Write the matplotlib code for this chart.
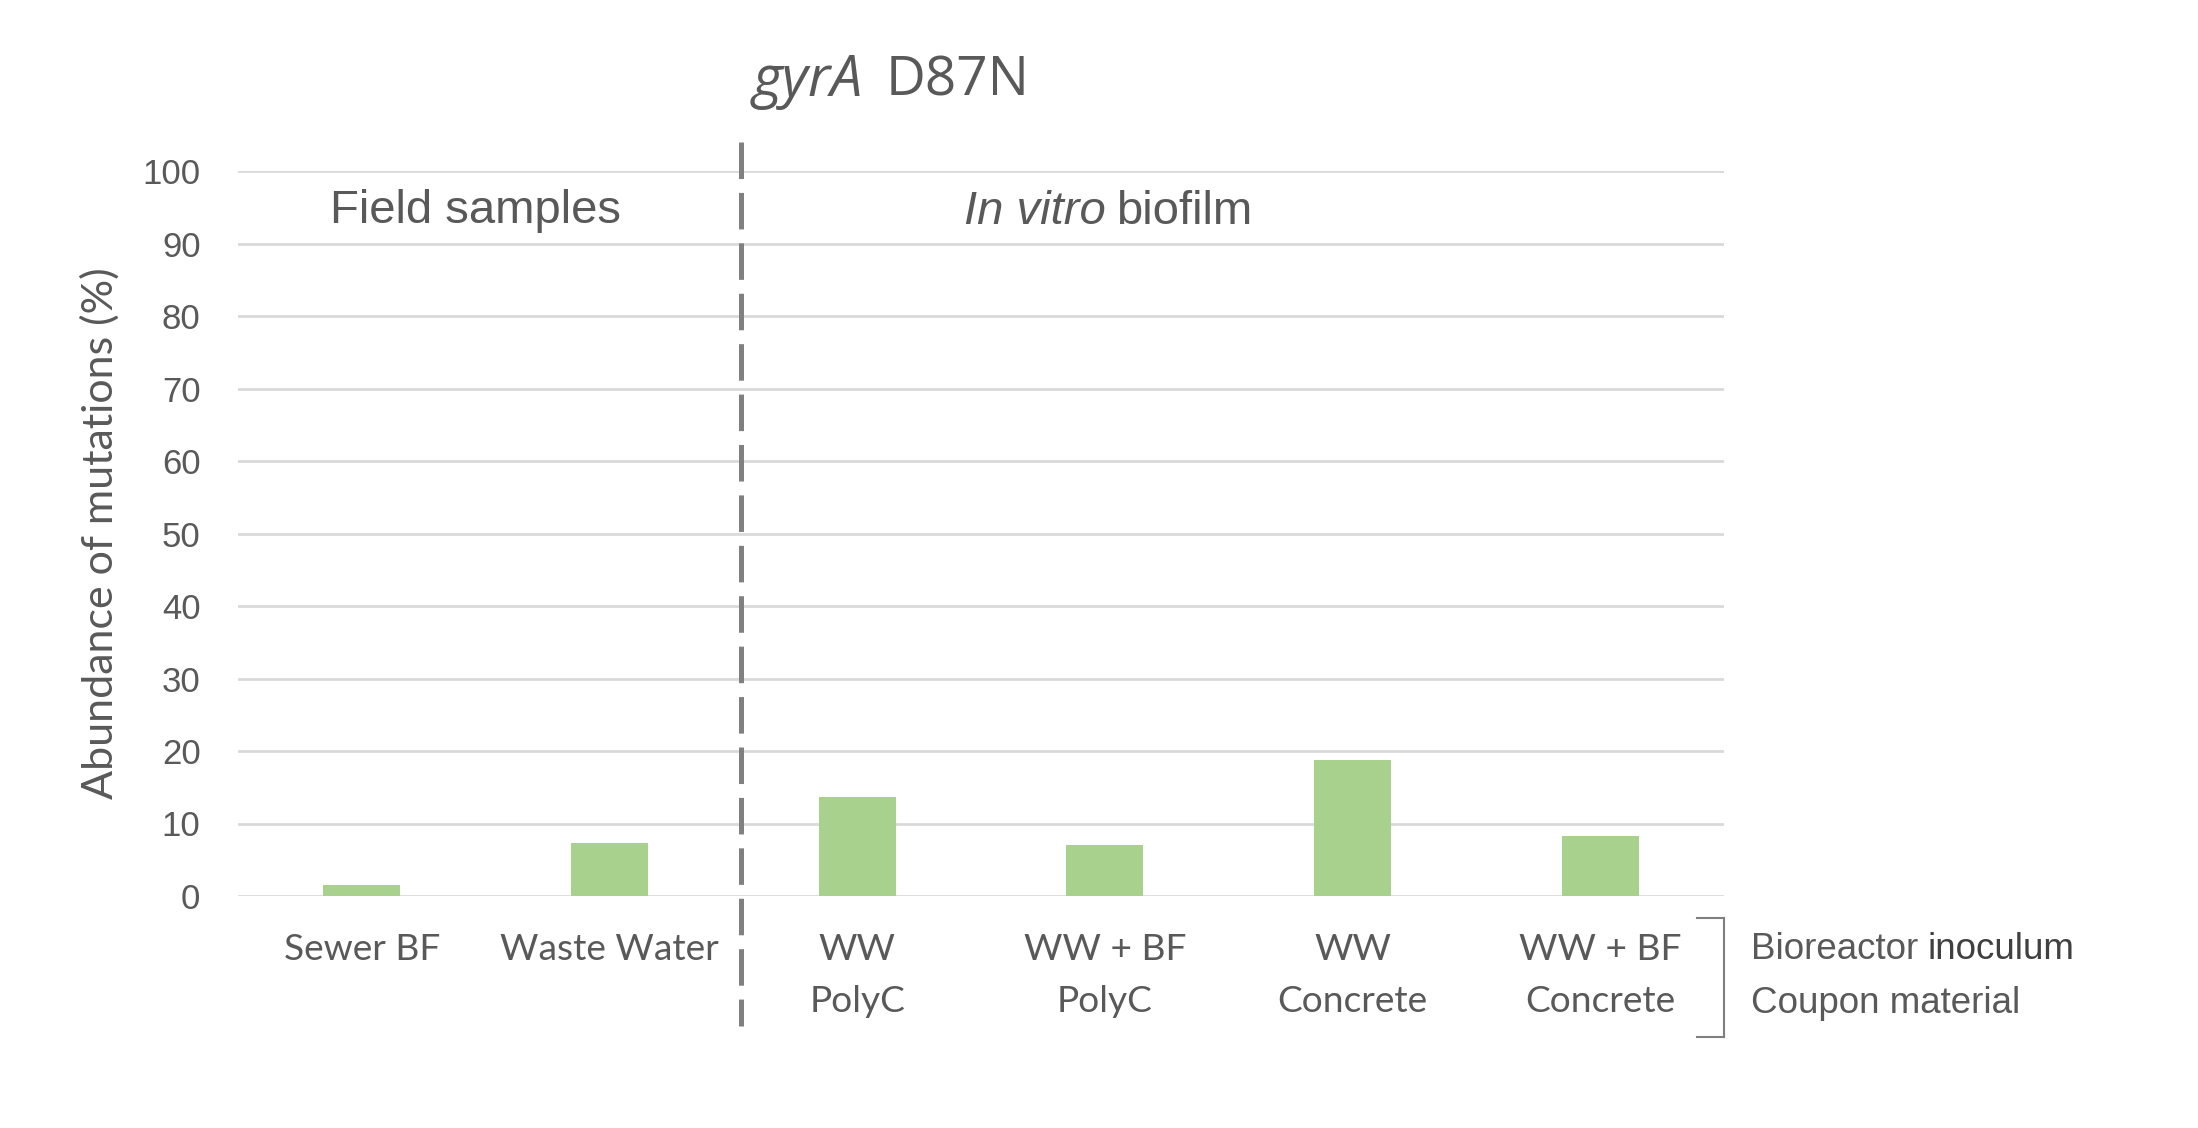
import matplotlib
matplotlib.use("Agg")
import matplotlib.pyplot as plt
from matplotlib.lines import Line2D

categories = ["Sewer BF", "Waste Water", "WW\nPolyC", "WW + BF\nPolyC", "WW\nConcrete", "WW + BF\nConcrete"]
values = [1.5, 7.3, 13.6, 7.0, 18.7, 8.3]
yticks = [0, 10, 20, 30, 40, 50, 60, 70, 80, 90, 100]

W, H = 2198, 1128
DPI = 100
TXT = "#595959"
BAR = "#a9d18e"
GRID = "#d9d9d9"
plt.rcParams['lines.scale_dashes'] = False

fig = plt.figure(figsize=(W / DPI, H / DPI), dpi=DPI)
L, R, T, B = 238, 1724, 171, 896
ax = fig.add_axes([L / W, 1 - B / H, (R - L) / W, (B - T) / H])

x = list(range(len(categories)))
ax.bar(x, values, width=0.31, color=BAR, zorder=2)
ax.set_xlim(-0.5, len(categories) - 0.5)
ax.set_ylim(0, 100)
ax.set_yticks(yticks)
ax.yaxis.grid(True, color=GRID, linewidth=1.95, zorder=0)
ax.set_axisbelow(True)
for s in ax.spines.values():
    s.set_visible(False)
ax.tick_params(axis='both', length=0)
ax.tick_params(axis='y', pad=27, labelsize=25, labelcolor=TXT)
for lab in ax.get_yticklabels():
    lab.set_fontfamily('Liberation Sans')
ax.set_xticks(x)
ax.set_xticklabels(categories, fontfamily='Lato', fontsize=26.7, color=TXT, linespacing=1.68)
ax.tick_params(axis='x', pad=27)

ax.set_ylabel("Abundance of mutations (%)", fontfamily='Lato', fontsize=31, color=TXT, labelpad=16)

# dashed separator
ax.add_line(Line2D([1.53, 1.53], [104.0, -17.9], color="#808080", linewidth=3.6,
                   dashes=(26.3, 10.0), solid_capstyle='butt', dash_capstyle='butt',
                   clip_on=False, zorder=3))

def px(xp, yp):
    return xp / W, 1 - yp / H

# title
fig.text(*px(753, 96), "gyrA", fontfamily='Open Sans', style='italic', fontsize=41,
         color=TXT, ha='left', va='baseline')
fig.text(*px(886, 96), "D87N", fontfamily='Open Sans', fontsize=39.5,
         color=TXT, ha='left', va='baseline')

fig.text(*px(476, 223), "Field samples", fontfamily='Liberation Sans', fontsize=34,
         color=TXT, ha='center', va='baseline')
fig.text(*px(964, 224), "In vitro", fontfamily='Liberation Sans', style='italic', fontsize=34,
         color=TXT, ha='left', va='baseline')
fig.text(*px(1116, 224), "biofilm", fontfamily='Liberation Sans', fontsize=34,
         color=TXT, ha='left', va='baseline')

# bracket
for seg in ([[1724, 1724], [918, 1037]], [[1697, 1724], [918, 918]], [[1697, 1724], [1037, 1037]]):
    fig.add_artist(Line2D([s / W for s in seg[0]], [1 - s / H for s in seg[1]],
                          color="#7f7f7f", linewidth=1.5, transform=fig.transFigure))

fig.text(*px(1751, 959), "Bioreactor", fontfamily='Liberation Sans', fontsize=26.5,
         color=TXT, ha='left', va='baseline')
fig.text(*px(1751, 1013), "Coupon material", fontfamily='Liberation Sans', fontsize=26.5,
         color=TXT, ha='left', va='baseline')
fig.canvas.draw()
r = fig.canvas.get_renderer()
t = fig.texts[-2]
bb = t.get_window_extent(r)
fig.text((bb.x1 + 9) / W, 1 - 959 / H, "inoculum", fontfamily='Liberation Sans', fontsize=26.5,
         color="#404040", ha='left', va='baseline')

fig.savefig("out.png", dpi=DPI)
